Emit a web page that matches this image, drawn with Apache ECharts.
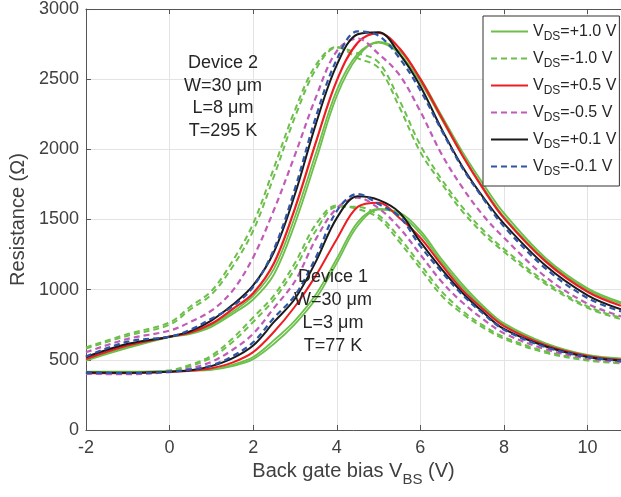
<!DOCTYPE html>
<html><head><meta charset="utf-8">
<script src="https://cdn.jsdelivr.net/npm/echarts@6/dist/echarts.min.js"></script>
<style>html,body{margin:0;padding:0;background:#fff}#c{width:621px;height:497px}</style>
</head><body><div id="c"></div>
<script>
// Back gate bias (V) sample points
var vbs = [-2, -1, 0, 0.5, 1, 1.5, 2, 2.5, 3, 3.5, 4, 4.5, 5, 5.5, 6, 6.5, 7, 7.5, 8, 9, 10, 10.8];
var xTicks = [-2, 0, 2, 4, 6, 8, 10];
var yTicks = [0, 500, 1000, 1500, 2000, 2500, 3000];
var legendNames = ['+1.0', '-1.0', '+0.5', '-0.5', '+0.1', '-0.1'];

// Device 2 (W=30 um, L=8 um, T=295 K)
var d2_p10a = [500, 590, 665, 690, 745, 840, 955, 1150, 1520, 1970, 2420, 2680, 2760, 2680, 2480, 2220, 1960, 1730, 1520, 1210, 1000, 900];
var d2_p10b = [495, 585, 662, 685, 735, 825, 930, 1110, 1470, 1920, 2380, 2660, 2765, 2700, 2505, 2245, 1985, 1755, 1545, 1225, 1010, 910];
var d2_m10a = [589, 684, 766, 880, 990, 1200, 1470, 1870, 2280, 2600, 2730, 2650, 2580, 2300, 1980, 1760, 1560, 1400, 1270, 1040, 870, 790];
var d2_m10b = [580, 672, 750, 860, 965, 1160, 1420, 1810, 2230, 2570, 2725, 2685, 2620, 2350, 2030, 1790, 1590, 1425, 1290, 1055, 880, 800];
var d2_p05 = [507, 603, 665, 695, 757, 860, 975, 1190, 1580, 2050, 2490, 2760, 2830, 2720, 2500, 2230, 1960, 1720, 1510, 1200, 985, 885];
var d2_m05 = [554, 649, 708, 770, 850, 990, 1230, 1570, 1960, 2370, 2700, 2790, 2680, 2530, 2270, 1970, 1730, 1530, 1370, 1090, 900, 810];
var d2_p01 = [520, 614, 665, 705, 780, 890, 1030, 1270, 1680, 2180, 2600, 2820, 2835, 2680, 2450, 2150, 1880, 1660, 1470, 1170, 960, 860];
var d2_m01 = [524, 630, 665, 715, 793, 880, 1020, 1290, 1720, 2230, 2640, 2840, 2810, 2650, 2420, 2140, 1870, 1650, 1450, 1150, 940, 845];

// Device 1 (W=30 um, L=3 um, T=77 K)
var d1_p10a = [415, 415, 420, 425, 432, 465, 520, 640, 780, 965, 1220, 1480, 1575, 1535, 1400, 1200, 1020, 870, 750, 610, 530, 505];
var d1_p10b = [410, 412, 418, 423, 428, 455, 505, 615, 755, 935, 1190, 1455, 1570, 1550, 1420, 1220, 1040, 885, 760, 618, 535, 510];
var d1_m10a = [410, 410, 425, 465, 530, 650, 802, 960, 1190, 1465, 1600, 1575, 1510, 1340, 1150, 960, 830, 730, 650, 550, 495, 475];
var d1_m10b = [405, 405, 420, 455, 515, 625, 770, 930, 1150, 1420, 1590, 1590, 1530, 1370, 1180, 990, 850, 745, 662, 560, 500, 480];
var d1_p05 = [405, 405, 415, 422, 440, 480, 555, 700, 880, 1100, 1360, 1590, 1620, 1510, 1370, 1180, 1000, 860, 740, 605, 528, 500];
var d1_m05 = [400, 398, 413, 440, 485, 570, 686, 870, 1060, 1360, 1580, 1655, 1580, 1440, 1250, 1060, 910, 790, 690, 575, 510, 485];
var d1_p01 = [410, 408, 415, 425, 455, 510, 602, 770, 935, 1200, 1510, 1665, 1640, 1550, 1340, 1150, 980, 840, 720, 595, 520, 495];
var d1_m01 = [410, 405, 415, 430, 460, 525, 625, 800, 960, 1230, 1560, 1682, 1610, 1520, 1310, 1130, 965, 830, 715, 590, 520, 492];

var GREEN = '#6cbf4a', RED = '#ee1c23', MAG = '#c05cb6', BLUE = '#2f55a6', BLACK = '#1a1a1a';

function pts(arr) { return vbs.map(function (x, i) { return [x, arr[i]]; }); }
function ser(name, arr, color, dashed, w) {
  return {
    name: name, type: 'line', data: pts(arr), symbol: 'none', smooth: 0.35,
    lineStyle: { color: color, width: w || 2, type: dashed ? [6, 4] : 'solid' },
    itemStyle: { color: color }, emphasis: { disabled: true }, animation: false
  };
}

var series = [
  ser('+1.0', d2_p10a, GREEN, false, 1.8), ser('+1.0', d2_p10b, GREEN, false, 1.8),
  ser('-1.0', d2_m10a, GREEN, true, 2), ser('-1.0', d2_m10b, GREEN, true, 2),
  ser('+0.5', d2_p05, RED, false, 2.2),
  ser('-0.5', d2_m05, MAG, true, 2.2),
  ser('+0.1', d2_p01, BLACK, false, 2),
  ser('-0.1', d2_m01, BLUE, true, 2.2),
  ser('+1.0', d1_p10a, GREEN, false, 1.8), ser('+1.0', d1_p10b, GREEN, false, 1.8),
  ser('-1.0', d1_m10a, GREEN, true, 2), ser('-1.0', d1_m10b, GREEN, true, 2),
  ser('+0.5', d1_p05, RED, false, 2),
  ser('-0.5', d1_m05, MAG, true, 2.2),
  ser('+0.1', d1_p01, BLACK, false, 2),
  ser('-0.1', d1_m01, BLUE, true, 2.2)
];

var FONT = 'Liberation Sans';
var TXT = '#404040';
var chart = echarts.init(document.getElementById('c'), null, { renderer: 'canvas' });
function annot(lines, cx, y0, dy) {
  return lines.map(function (t, i) {
    return { type: 'text', x: cx, y: y0 + i * dy, z: 100,
      style: { text: t, textAlign: 'center', textVerticalAlign: 'middle', fill: '#262626', font: '18px "Liberation Sans"' } };
  });
}
chart.setOption({
  animation: false,
  grid: { left: 82, right: 0, top: 6, bottom: 67, containLabel: false },
  xAxis: [{
    type: 'value', min: -2, max: 10.8, interval: 2,
    name: '{a|Back gate bias V}{s|BS}{a| (V)}', nameLocation: 'middle', nameGap: 27,
    nameTextStyle: { rich: {
      a: { fontFamily: FONT, fontSize: 20, color: TXT, lineHeight: 26, verticalAlign: 'top' },
      s: { fontFamily: FONT, fontSize: 15, color: TXT, lineHeight: 26, verticalAlign: 'top', padding: [10, 0, 0, 0] } } },
    axisLine: { show: true, onZero: false, lineStyle: { color: '#555', width: 1 } },
    axisTick: { show: true, inside: true, length: 5, lineStyle: { color: '#555' } },
    axisLabel: { fontFamily: FONT, fontSize: 18, color: TXT, margin: 9, showMaxLabel: false },
    splitLine: { show: true, lineStyle: { color: '#e3e3e3', width: 1 } }
  }, {
    type: 'value', position: 'top', min: -2, max: 10.8, interval: 2,
    axisLine: { show: true, onZero: false, lineStyle: { color: '#555', width: 1 } },
    axisTick: { show: true, inside: true, length: 5, lineStyle: { color: '#555' } },
    axisLabel: { show: false }, splitLine: { show: false }
  }],
  yAxis: [{
    type: 'value', min: 0, max: 3000, interval: 500,
    name: 'Resistance (Ω)', nameLocation: 'middle', nameGap: 49, nameRotate: 90,
    nameTextStyle: { fontFamily: FONT, fontSize: 20, color: TXT },
    axisLine: { show: true, onZero: false, lineStyle: { color: '#555', width: 1 } },
    axisTick: { show: true, inside: true, length: 5, lineStyle: { color: '#555' } },
    axisLabel: { fontFamily: FONT, fontSize: 18, color: TXT, margin: 7, formatter: function (v) { return String(v); } },
    splitLine: { show: true, lineStyle: { color: '#e3e3e3', width: 1 } }
  }],
  legend: {
    data: legendNames, orient: 'vertical', left: 483, top: 16,
    itemWidth: 37, itemHeight: 14, itemGap: 4,
    padding: [4, 3, 8, 7], borderColor: '#333', borderWidth: 1, backgroundColor: '#fff',
    selectedMode: false,
    itemStyle: { opacity: 0, borderWidth: 0 },
    formatter: function (n) { return '{v|V}{s|DS}{v|=' + n + ' V}'; },
    textStyle: { rich: {
      v: { fontFamily: FONT, fontSize: 16, color: '#262626', lineHeight: 22 },
      s: { fontFamily: FONT, fontSize: 12, color: '#262626', lineHeight: 22, padding: [11, 0, 0, 0] } } }
  },
  graphic: annot(['Device 2', 'W=30 μm', 'L=8 μm', 'T=295 K'], 223, 63, 22.7)
    .concat(annot(['Device 1', 'W=30 μm', 'L=3 μm', 'T=77 K'], 333, 277, 23)),
  series: series
});
</script></body></html>
